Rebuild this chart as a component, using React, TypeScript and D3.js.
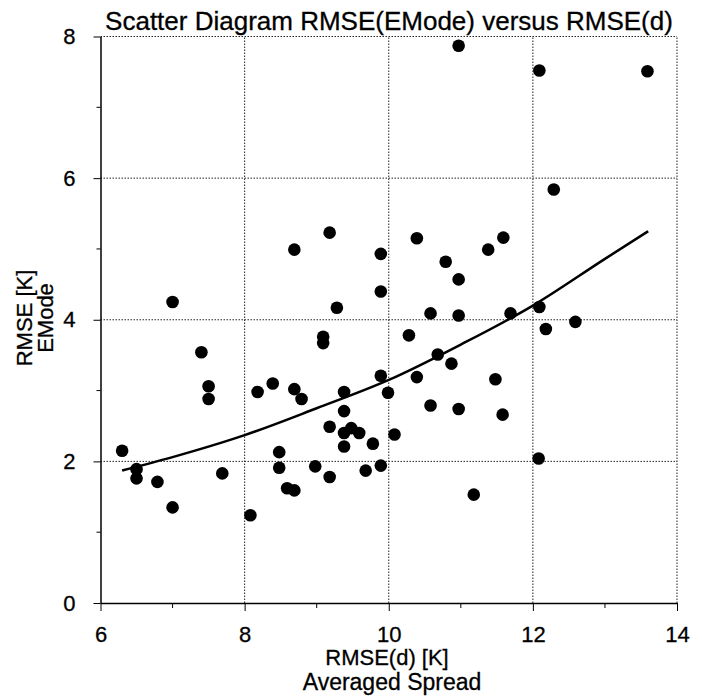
import React, { useEffect, useRef } from "react";
import * as d3 from "d3";

// scatter points
const spreadValues = [
  6.3, 6.5, 6.5, 6.79, 7.0, 7.0, 7.4, 7.5, 7.5, 7.69, 8.08, 8.18, 8.39, 8.48,
  8.48, 8.59, 8.69, 8.69, 8.69, 8.79, 8.98, 9.09, 9.09, 9.18, 9.18, 9.18, 9.28,
  9.38, 9.38, 9.38, 9.38, 9.48, 9.59, 9.68, 9.78, 9.89, 9.89, 9.89, 9.89, 9.99,
  10.08, 10.28, 10.39, 10.39, 10.58, 10.58, 10.68, 10.79, 10.87, 10.97, 10.97,
  10.97, 10.97, 11.18, 11.38, 11.48, 11.58, 11.59, 11.69, 12.08, 12.09, 12.09,
  12.18, 12.29, 12.59, 13.59,
];
const emodeValues = [
  2.15, 1.89, 1.76, 1.71, 1.35, 4.25, 3.54, 3.06, 2.88, 1.83, 1.24, 2.98, 3.1,
  2.13, 1.91, 1.62, 1.59, 3.02, 4.99, 2.88, 1.93, 3.76, 3.67, 5.23, 2.49, 1.78,
  4.17, 2.98, 2.71, 2.4, 2.21, 2.47, 2.4, 1.87, 2.25, 4.93, 4.4, 3.21, 1.94,
  2.97, 2.38, 3.78, 5.15, 3.19, 4.09, 2.79, 3.51, 4.82, 3.38, 7.87, 4.57, 4.06,
  2.74, 1.53, 4.99, 3.16, 2.66, 5.16, 4.09, 2.04, 7.52, 4.18, 3.87, 5.84, 3.97,
  7.51,
];

// trend curve
const trendX = [6.3, 7, 8, 9, 10, 11, 12, 13, 13.6];
const trendY = [1.87, 2.06, 2.37, 2.75, 3.15, 3.65, 4.2, 4.86, 5.25];

const xTicks = [6, 8, 10, 12, 14];
const xMinorTicks = [7, 9, 11, 13];
const yTicks = [0, 2, 4, 6, 8];
const yMinorTicks = [1, 3, 5, 7];

const W = 702,
  H = 698;
const FONT = "'Liberation Sans', Arial, sans-serif";

export default function App() {
  const svgRef = useRef<SVGSVGElement>(null);

  useEffect(() => {
    const svg = d3.select(svgRef.current);
    svg.selectAll("*").remove();

    const x = d3.scaleLinear().domain([6, 14]).range([100.5, 677]);
    const y = d3.scaleLinear().domain([0, 8]).range([603, 36.5]);

    const [x0, x1] = x.range();
    const [y0, y1] = y.range();

    // grid lines (dotted), incl. top and right border
    const grid = svg.append("g").attr("stroke", "#222").attr("stroke-width", 1).attr("stroke-dasharray", "1.5,1.5");
    grid
      .selectAll("line.gx")
      .data(xTicks.filter((t) => t !== 6))
      .join("line")
      .attr("x1", (d) => x(d))
      .attr("x2", (d) => x(d))
      .attr("y1", y0)
      .attr("y2", y1);
    grid
      .selectAll("line.gy")
      .data(yTicks.filter((t) => t !== 0))
      .join("line")
      .attr("x1", x0)
      .attr("x2", x1)
      .attr("y1", (d) => y(d))
      .attr("y2", (d) => y(d));

    // axes
    const xAxis = svg
      .append("g")
      .attr("transform", `translate(0,${y0})`)
      .call(d3.axisBottom(x).tickValues(xTicks).tickSize(8).tickSizeOuter(0).tickFormat(d3.format("d")));
    xAxis.selectAll("text").attr("font-size", 22).attr("dy", 0).attr("y", 39).attr("fill", "#000");
    xAxis.select(".domain").attr("stroke-width", 1.5);

    svg
      .append("g")
      .attr("stroke", "#000")
      .selectAll("line")
      .data(xMinorTicks)
      .join("line")
      .attr("x1", (d) => x(d))
      .attr("x2", (d) => x(d))
      .attr("y1", y0)
      .attr("y2", y0 + 5);

    const yAxis = svg
      .append("g")
      .attr("transform", `translate(${x0},0)`)
      .call(d3.axisLeft(y).tickValues(yTicks).tickSize(7).tickSizeOuter(0).tickFormat(d3.format("d")));
    yAxis.selectAll("text").attr("font-size", 22).attr("x", -25).attr("fill", "#000");
    yAxis.select(".domain").attr("stroke-width", 1.5);

    svg
      .append("g")
      .attr("stroke", "#000")
      .selectAll("line")
      .data(yMinorTicks)
      .join("line")
      .attr("x1", x0 - 4)
      .attr("x2", x0)
      .attr("y1", (d) => y(d))
      .attr("y2", (d) => y(d));

    svg.selectAll("g.tick text").attr("font-family", FONT).attr("stroke", "#000").attr("stroke-width", 0.3);

    // trend line
    const line = d3
      .line<number>()
      .x((d) => x(trendX[d]))
      .y((d) => y(trendY[d]))
      .curve(d3.curveMonotoneX);
    svg
      .append("path")
      .datum(d3.range(trendX.length))
      .attr("fill", "none")
      .attr("stroke", "#000")
      .attr("stroke-width", 2.5)
      .attr("d", line);

    // points
    svg
      .append("g")
      .selectAll("circle")
      .data(d3.range(spreadValues.length))
      .join("circle")
      .attr("cx", (i) => x(spreadValues[i]))
      .attr("cy", (i) => y(emodeValues[i]))
      .attr("r", 6.3)
      .attr("fill", "#000");

    // titles
    const label = (tx: number, ty: number, size: number, txt: string, rotate = false) =>
      svg
        .append("text")
        .attr("transform", `translate(${tx},${ty})${rotate ? " rotate(-90)" : ""}`)
        .attr("text-anchor", "middle")
        .attr("font-family", FONT)
        .attr("font-size", size)
        .attr("fill", "#000")
        .attr("stroke", "#000")
        .attr("stroke-width", 0.3)
        .text(txt);

    label(389, 30, 26, "Scatter Diagram RMSE(EMode) versus RMSE(d)");
    label(387, 665, 22, "RMSE(d) [K]");
    label(392, 690, 23, "Averaged Spread");
    label(32, 318, 22, "RMSE [K]", true);
    label(53, 318, 22, "EMode", true);
  }, []);

  return (
    <svg
      ref={svgRef}
      width={W}
      height={H}
      style={{ position: "absolute", left: 0, top: 0, background: "#fff" }}
    ></svg>
  );
}
